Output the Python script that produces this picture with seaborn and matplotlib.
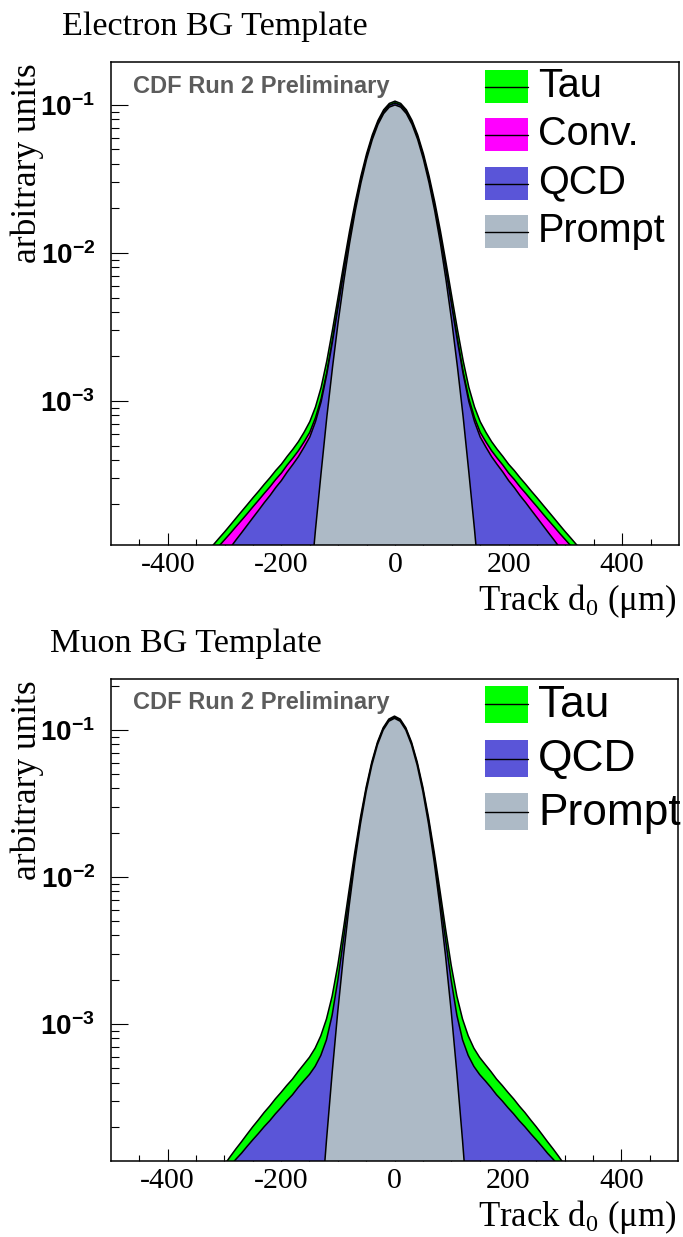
import numpy as np
import matplotlib
matplotlib.use("Agg")
import matplotlib.pyplot as plt
import seaborn as sns
from matplotlib.patches import Rectangle
from matplotlib.lines import Line2D
from matplotlib.ticker import FixedLocator, LogLocator, NullFormatter

sns.set_theme(style="ticks")
plt.rcParams["font.family"] = ["Liberation Sans", "DejaVu Sans"]
plt.rcParams["mathtext.fontset"] = "custom"
plt.rcParams["mathtext.rm"] = "Liberation Serif"
plt.rcParams["mathtext.it"] = "Liberation Serif:italic"
plt.rcParams["mathtext.bf"] = "Liberation Sans:bold"
for key in ("text.color", "axes.labelcolor", "xtick.color", "ytick.color",
            "axes.edgecolor"):
    plt.rcParams[key] = "black"

# ---------------------------------------------------------------- data
# track impact parameter d0 (um), bin centres
d0 = list(range(-350, 351, 10))

# electron sample: per-component template contributions (arbitrary units)
ele_prompt = [
    0, 0, 0, 0, 0, 0, 0, 0, 0, 0,
    0, 0, 0, 0, 0, 0, 5e-7, 1.8e-6, 5.8e-6, 1.8e-5,
    5.1e-5, 1.35e-4, 3.3e-4, 7.8e-4, 1.69e-3, 3.43e-3, 6.5e-3, 1.16e-2, 1.92e-2, 2.97e-2,
    4.30e-2, 5.83e-2, 7.38e-2, 8.74e-2, 9.67e-2, 1.00e-1, 9.67e-2, 8.74e-2, 7.38e-2, 5.83e-2,
    4.30e-2, 2.97e-2, 1.92e-2, 1.16e-2, 6.5e-3, 3.43e-3, 1.69e-3, 7.8e-4, 3.3e-4, 1.35e-4,
    5.1e-5, 1.8e-5, 5.8e-6, 1.8e-6, 5e-7, 0, 0, 0, 0, 0,
    0, 0, 0, 0, 0, 0, 0, 0, 0, 0,
    0]
ele_qcd = [
    5.1e-5, 5.7e-5, 6.4e-5, 7.2e-5, 8.1e-5, 9.1e-5, 1.02e-4, 1.15e-4, 1.29e-4, 1.45e-4,
    1.63e-4, 1.83e-4, 2.06e-4, 2.3e-4, 2.6e-4, 2.9e-4, 3.3e-4, 3.7e-4, 4.15e-4, 4.7e-4,
    5.2e-4, 5.9e-4, 6.6e-4, 7.4e-4, 8.4e-4, 9.4e-4, 1.06e-3, 1.19e-3, 1.33e-3, 1.5e-3,
    1.7e-3, 1.9e-3, 2.1e-3, 2.4e-3, 2.7e-3, 3.0e-3, 2.7e-3, 2.4e-3, 2.1e-3, 1.9e-3,
    1.7e-3, 1.5e-3, 1.33e-3, 1.19e-3, 1.06e-3, 9.4e-4, 8.4e-4, 7.4e-4, 6.6e-4, 5.9e-4,
    5.2e-4, 4.7e-4, 4.15e-4, 3.7e-4, 3.3e-4, 2.9e-4, 2.6e-4, 2.3e-4, 2.06e-4, 1.83e-4,
    1.63e-4, 1.45e-4, 1.29e-4, 1.15e-4, 1.02e-4, 9.1e-5, 8.1e-5, 7.2e-5, 6.4e-5, 5.7e-5,
    5.1e-5]
ele_conv = [
    2.0e-5, 2.1e-5, 2.2e-5, 2.25e-5, 2.35e-5, 2.45e-5, 2.55e-5, 2.65e-5, 2.75e-5, 2.85e-5,
    3.0e-5, 3.1e-5, 3.2e-5, 3.35e-5, 3.5e-5, 3.6e-5, 3.8e-5, 3.9e-5, 4.1e-5, 4.2e-5,
    4.4e-5, 4.6e-5, 4.8e-5, 5.0e-5, 5.2e-5, 5.4e-5, 5.5e-5, 5.6e-5, 5.8e-5, 6.0e-5,
    6.2e-5, 6.4e-5, 6.7e-5, 7.0e-5, 7.3e-5, 7.5e-5, 7.3e-5, 7.0e-5, 6.7e-5, 6.4e-5,
    6.2e-5, 6.0e-5, 5.8e-5, 5.6e-5, 5.5e-5, 5.4e-5, 5.2e-5, 5.0e-5, 4.8e-5, 4.6e-5,
    4.4e-5, 4.2e-5, 4.1e-5, 3.9e-5, 3.8e-5, 3.6e-5, 3.5e-5, 3.35e-5, 3.2e-5, 3.1e-5,
    3.0e-5, 2.85e-5, 2.75e-5, 2.65e-5, 2.55e-5, 2.45e-5, 2.35e-5, 2.25e-5, 2.2e-5, 2.1e-5,
    2.0e-5]
ele_tau = [
    8.0e-6, 9.0e-6, 1.05e-5, 1.2e-5, 1.35e-5, 1.5e-5, 1.75e-5, 2.0e-5, 2.3e-5, 2.6e-5,
    2.9e-5, 3.2e-5, 3.6e-5, 4.0e-5, 4.4e-5, 4.8e-5, 5.3e-5, 6.0e-5, 7.0e-5, 8.5e-5,
    1.1e-4, 1.4e-4, 2.0e-4, 3.0e-4, 4.5e-4, 6.5e-4, 9.0e-4, 1.2e-3, 1.5e-3, 1.8e-3,
    2.1e-3, 2.4e-3, 2.6e-3, 2.8e-3, 2.9e-3, 3.0e-3, 2.9e-3, 2.8e-3, 2.6e-3, 2.4e-3,
    2.1e-3, 1.8e-3, 1.5e-3, 1.2e-3, 9.0e-4, 6.5e-4, 4.5e-4, 3.0e-4, 2.0e-4, 1.4e-4,
    1.1e-4, 8.5e-5, 7.0e-5, 6.0e-5, 5.3e-5, 4.8e-5, 4.4e-5, 4.0e-5, 3.6e-5, 3.2e-5,
    2.9e-5, 2.6e-5, 2.3e-5, 2.0e-5, 1.75e-5, 1.5e-5, 1.35e-5, 1.2e-5, 1.05e-5, 9.0e-6,
    8.0e-6]

# muon sample
mu_prompt = [
    0, 0, 0, 0, 0, 0, 0, 0, 0, 0,
    0, 0, 0, 0, 0, 0, 0, 0, 2e-7, 9.4e-7,
    3.9e-6, 1.48e-5, 5.1e-5, 1.61e-4, 4.63e-4, 1.22e-3, 2.91e-3, 6.35e-3, 1.265e-2, 2.30e-2,
    3.81e-2, 5.75e-2, 7.93e-2, 9.98e-2, 1.146e-1, 1.20e-1, 1.146e-1, 9.98e-2, 7.93e-2, 5.75e-2,
    3.81e-2, 2.30e-2, 1.265e-2, 6.35e-3, 2.91e-3, 1.22e-3, 4.63e-4, 1.61e-4, 5.1e-5, 1.48e-5,
    3.9e-6, 9.4e-7, 2e-7, 0, 0, 0, 0, 0, 0, 0,
    0, 0, 0, 0, 0, 0, 0, 0, 0, 0,
    0]
mu_qcd = [
    5.8e-5, 6.5e-5, 7.2e-5, 7.9e-5, 8.8e-5, 9.7e-5, 1.08e-4, 1.2e-4, 1.32e-4, 1.47e-4,
    1.63e-4, 1.8e-4, 2.0e-4, 2.2e-4, 2.45e-4, 2.7e-4, 3.0e-4, 3.3e-4, 3.7e-4, 4.1e-4,
    4.5e-4, 5.0e-4, 5.6e-4, 6.2e-4, 6.85e-4, 7.6e-4, 8.4e-4, 9.3e-4, 1.03e-3, 1.14e-3,
    1.26e-3, 1.4e-3, 1.55e-3, 1.72e-3, 1.9e-3, 2.1e-3, 1.9e-3, 1.72e-3, 1.55e-3, 1.4e-3,
    1.26e-3, 1.14e-3, 1.03e-3, 9.3e-4, 8.4e-4, 7.6e-4, 6.85e-4, 6.2e-4, 5.6e-4, 5.0e-4,
    4.5e-4, 4.1e-4, 3.7e-4, 3.3e-4, 3.0e-4, 2.7e-4, 2.45e-4, 2.2e-4, 2.0e-4, 1.8e-4,
    1.63e-4, 1.47e-4, 1.32e-4, 1.2e-4, 1.08e-4, 9.7e-5, 8.8e-5, 7.9e-5, 7.2e-5, 6.5e-5,
    5.8e-5]
mu_tau = [
    4.0e-6, 5.0e-6, 6.5e-6, 8.0e-6, 1.0e-5, 1.3e-5, 1.7e-5, 2.1e-5, 2.6e-5, 3.1e-5,
    3.7e-5, 4.3e-5, 5.0e-5, 5.7e-5, 6.5e-5, 7.3e-5, 8.2e-5, 9.2e-5, 1.05e-4, 1.2e-4,
    1.4e-4, 1.7e-4, 2.2e-4, 3.0e-4, 4.0e-4, 5.3e-4, 7.0e-4, 9.0e-4, 1.1e-3, 1.3e-3,
    1.5e-3, 1.7e-3, 1.85e-3, 1.95e-3, 2.0e-3, 2.05e-3, 2.0e-3, 1.95e-3, 1.85e-3, 1.7e-3,
    1.5e-3, 1.3e-3, 1.1e-3, 9.0e-4, 7.0e-4, 5.3e-4, 4.0e-4, 3.0e-4, 2.2e-4, 1.7e-4,
    1.4e-4, 1.2e-4, 1.05e-4, 9.2e-5, 8.2e-5, 7.3e-5, 6.5e-5, 5.7e-5, 5.0e-5, 4.3e-5,
    3.7e-5, 3.1e-5, 2.6e-5, 2.1e-5, 1.7e-5, 1.3e-5, 1.0e-5, 8.0e-6, 6.5e-6, 5.0e-6,
    4.0e-6]

x_major = [-400, -200, 0, 200, 400]
x_labels = ["-400", "-200", "0", "200", "400"]
y_major = [1e-3, 1e-2, 1e-1]
y_labels = [r"$\mathbf{10^{-3}}$", r"$\mathbf{10^{-2}}$", r"$\mathbf{10^{-1}}$"]

COL = {"Tau": "#00ff00", "Conv.": "#ff00ff", "QCD": "#5a55d8", "Prompt": "#adbac6"}

# ---------------------------------------------------------------- figure
W, H = 683, 1237
fig = plt.figure(figsize=(W / 100, H / 100), dpi=100)


def px_axes(l, t, r, b):
    return fig.add_axes([l / W, 1 - b / H, (r - l) / W, (b - t) / H])


def fx(px):
    return px / W


def fy(py):
    return 1 - py / H


def draw_stack(ax, names, comps, ylim):
    x = np.array(d0, dtype=float)
    cum = np.cumsum(np.vstack(comps), axis=0)
    z = 1.0
    # largest cumulative first, lower components painted over it
    for k in reversed(range(len(comps))):
        y = np.maximum(cum[k], 1e-12)
        ax.fill_between(x, 1e-12, y, facecolor=COL[names[k]], edgecolor="none",
                        zorder=z)
        sns.lineplot(x=x, y=y, ax=ax, color="black", linewidth=1.1,
                     estimator=None, sort=False, zorder=z + 0.05)
        z += 0.1
    ax.set_yscale("log")
    ax.set_xlim(-500, 500)
    ax.set_ylim(*ylim)
    ax.set_axisbelow(True)
    ax.set_xticks(x_major)
    ax.set_xticklabels(x_labels, fontfamily="Liberation Serif", fontsize=21.5,
                       color="black")
    ax.xaxis.set_minor_locator(FixedLocator(list(range(-450, 451, 50))))
    ax.set_yticks(y_major)
    ax.set_yticklabels(y_labels, fontsize=20, color="black")
    ax.yaxis.set_minor_locator(LogLocator(base=10, subs=range(2, 10)))
    ax.yaxis.set_minor_formatter(NullFormatter())
    ax.tick_params(axis="x", which="major", direction="in", length=9, width=0.8,
                   pad=5, top=False, color="black")
    ax.tick_params(axis="x", which="minor", direction="in", length=4.5, width=0.8,
                   top=False, color="black")
    ax.tick_params(axis="y", which="major", direction="in", length=12, width=0.8,
                   pad=11.5, right=False, color="black")
    ax.tick_params(axis="y", which="minor", direction="in", length=6, width=0.8,
                   right=False, color="black")
    ax.set_xlabel("")
    ax.set_ylabel("")
    for s in ax.spines.values():
        s.set_visible(True)
        s.set_color("black")
        s.set_linewidth(1.1)
        s.set_zorder(3)
    ax.grid(False)


def draw_legend(names, tops, box_h, baselines, size):
    for name, top, base in zip(names, tops, baselines):
        fig.patches.append(Rectangle((fx(485), fy(top + box_h)), (528 - 485) / W,
                                     box_h / H, transform=fig.transFigure,
                                     facecolor=COL[name], edgecolor="none"))
        yc = fy(top + box_h / 2)
        fig.lines.append(Line2D([fx(485), fx(528)], [yc, yc], transform=fig.transFigure,
                                color="black", linewidth=1.0))
        fig.text(fx(538), fy(base), name, fontsize=size, va="baseline", ha="left",
                 family="Liberation Sans", color="black")


def panel_text(title, title_x, title_base, ax_top, cdf_base, xl_base):
    fig.text(fx(title_x), fy(title_base), title, family="Liberation Serif",
             fontsize=24.6, va="baseline", ha="left", color="black")
    fig.text(fx(27), fy(ax_top + 1), "arbitrary units", family="Liberation Serif",
             fontsize=25.5, rotation=90, ha="center", va="top", color="black")
    fig.text(fx(133), fy(cdf_base), "CDF Run 2 Preliminary", family="Liberation Sans",
             weight="bold", color="#5c5c5c", fontsize=17, va="baseline", ha="left")
    fig.text(fx(676), fy(xl_base), "Track d$_{0}$ (μm)", family="Liberation Serif",
             fontsize=25, va="baseline", ha="right", color="black")


# electron panel
ax1 = px_axes(111, 62, 679, 545)
draw_stack(ax1, ["Prompt", "QCD", "Conv.", "Tau"],
           [ele_prompt, ele_qcd, ele_conv, ele_tau], (1.064e-4, 0.195))
panel_text("Electron BG Template", 62, 35, 62, 93, 610)
draw_legend(["Tau", "Conv.", "QCD", "Prompt"], [70, 118, 167, 215], 33,
            [96.7, 145, 193.3, 241.7], 28.5)

# muon panel
ax2 = px_axes(111, 679, 678, 1161)
draw_stack(ax2, ["Prompt", "QCD", "Tau"], [mu_prompt, mu_qcd, mu_tau], (1.17e-4, 0.222))
panel_text("Muon BG Template", 50, 652, 679, 709, 1226)
draw_legend(["Tau", "QCD", "Prompt"], [686, 740, 793], 37,
            [716.7, 770.7, 824.7], 31.9)

fig.savefig("out.png", dpi=100)
